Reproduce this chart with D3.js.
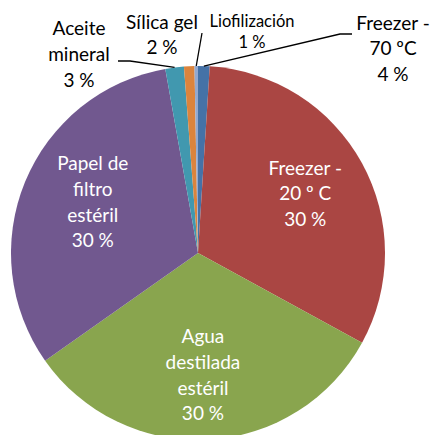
<!DOCTYPE html>
<html>
<head>
<meta charset="utf-8">
<script src="https://cdn.jsdelivr.net/npm/d3@7"></script>
<style>
  body { margin: 0; background: #fff; }
  text { font-family: Lato, "Open Sans", sans-serif; }
</style>
</head>
<body>
<div id="chart"></div>
<script>
// data (slice sizes from the angles, label text as printed)
const names = ["Freezer - 70 ºC", "Freezer - 20 º C", "Agua destilada estéril",
    "Papel de filtro estéril", "Aceite mineral", "Sílica gel", "Liofilización"];
const values = [1.0, 32.0, 32.3, 32.0, 1.6, 0.9, 0.3];
const pctLabels = ["4 %", "30 %", "30 %", "30 %", "3 %", "2 %", "1 %"];
const labelLines = [
    ["Freezer -", "70 ºC"],
    ["Freezer -", "20 º C"],
    ["Agua", "destilada", "estéril"],
    ["Papel de", "filtro", "estéril"],
    ["Aceite", "mineral"],
    ["Sílica gel"],
    ["Liofilización"]
];
const colors = ["#4572A7", "#AA4643", "#89A54E", "#71588F", "#4198AF", "#DB843D", "#93A9CF"];

// layout
const width = 431, height = 435;
const cx = 198, cy = 253, radius = 187;

const svg = d3.select("#chart")
    .append("svg")
    .attr("width", width)
    .attr("height", height);

const g = svg.append("g")
    .attr("transform", `translate(${cx}, ${cy})`);

const data = names.map((n, i) => ({ name: n, value: values[i], i: i }));

const pie = d3.pie()
    .sort(null)
    .value(d => d.value);

const arcs = pie(data);

const arc = d3.arc().innerRadius(0).outerRadius(radius);
const labelArc = d3.arc().innerRadius(radius * 0.655).outerRadius(radius * 0.655);

g.selectAll("path")
    .data(arcs)
    .join("path")
    .attr("d", arc)
    .attr("fill", d => colors[d.data.i]);

// labels inside the three big slices (small nudges to match the original)
const inside = [{ i: 1, dx: 0, dy: 0 }, { i: 2, dx: -2, dy: 0 }, { i: 3, dx: 8, dy: -4 }];
const lhIn = 25.7;
inside.forEach(function (o) {
    const a = arcs[o.i];
    const [x, y] = labelArc.centroid(a);
    const lines = labelLines[o.i].concat([pctLabels[o.i]]);
    const t = g.append("text")
        .attr("text-anchor", "middle")
        .attr("fill", "#fff")
        .attr("font-size", "19px");
    lines.forEach(function (s, k) {
        t.append("tspan")
            .attr("x", x + o.dx)
            .attr("y", y + o.dy + (k - (lines.length - 1) / 2) * lhIn + 6.5)
            .text(s);
    });
});

// labels outside the small slices, with leader lines (absolute page coords)
const outside = [
    { i: 0, x: 393, y: 29.5, lh: 25.7, size: 19, leader: [[352, 34], [340, 34]] },
    { i: 4, x: 79, y: 35, lh: 25.8, size: 19, leader: [[118, 61], [130, 61]] },
    { i: 5, x: 162, y: 29.3, lh: 25, size: 19, leader: null },
    { i: 6, x: 252, y: 26.7, lh: 21.6, size: 16.5, leader: [[202, 33]] }
];

outside.forEach(function (o) {
    const a = arcs[o.i];
    if (o.leader) {
        const mid = (a.startAngle + a.endAngle) / 2;
        const end = [cx + radius * Math.sin(mid), cy - radius * Math.cos(mid)];
        svg.append("path")
            .attr("d", d3.line()(o.leader.concat([end])))
            .attr("fill", "none")
            .attr("stroke", "#000")
            .attr("stroke-width", 1.3);
    }
    const lines = labelLines[o.i].concat([pctLabels[o.i]]);
    const t = svg.append("text")
        .attr("text-anchor", "middle")
        .attr("fill", "#000")
        .attr("font-size", o.size + "px");
    lines.forEach(function (s, k) {
        t.append("tspan")
            .attr("x", o.x)
            .attr("y", o.y + k * o.lh)
            .text(s);
    });
});
</script>
</body>
</html>
